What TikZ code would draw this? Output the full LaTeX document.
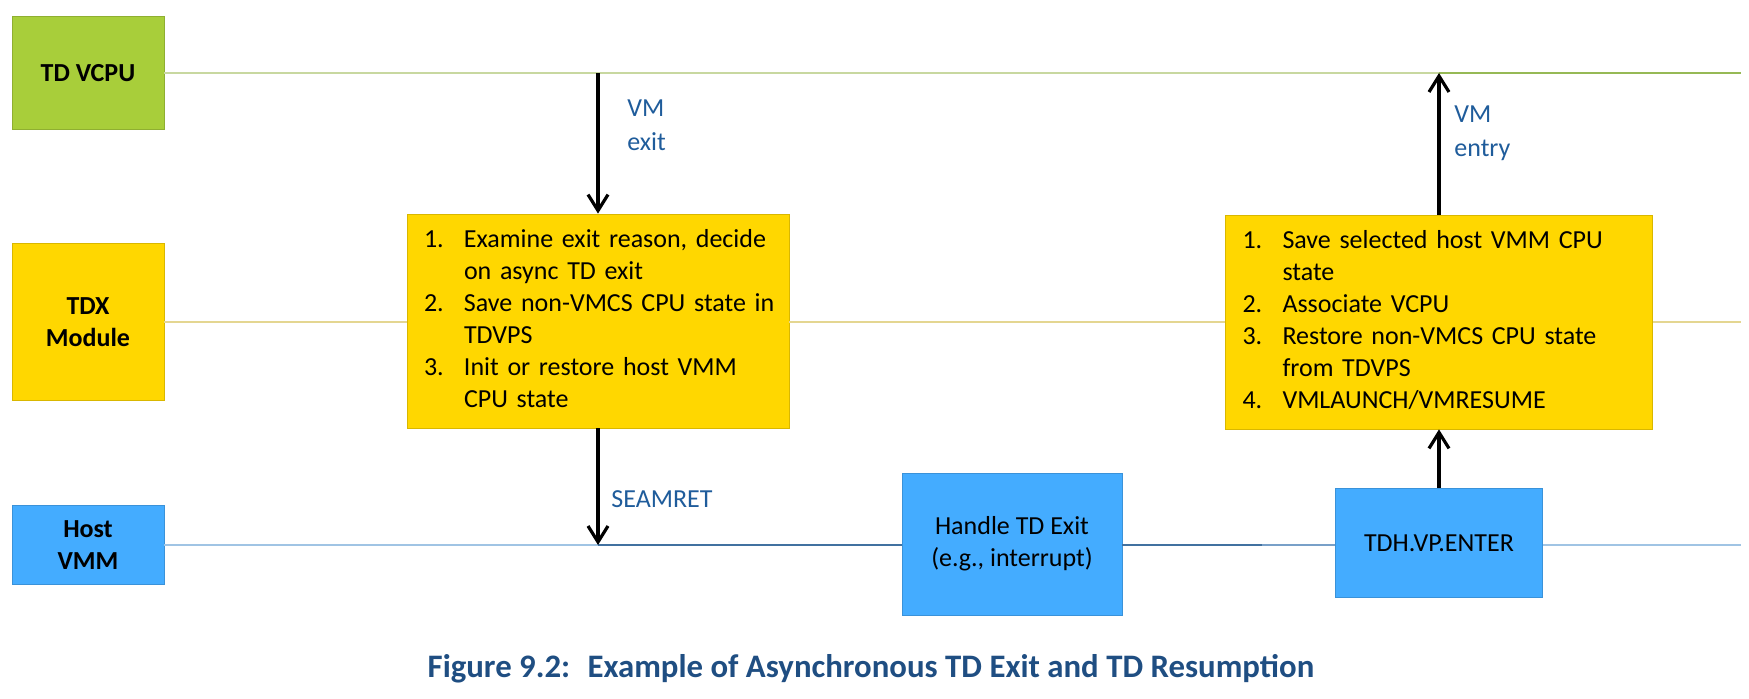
\documentclass[tikz,border=0pt]{standalone}
\usepackage{fontspec}
\setmainfont{Carlito}
\usetikzlibrary{arrows.meta}
\definecolor{vcpugreen}{RGB}{168,206,58}
\definecolor{tdxyellow}{RGB}{255,215,0}
\definecolor{hostblue}{RGB}{68,172,255}
\definecolor{notecol}{RGB}{31,92,155}
\definecolor{capcol}{RGB}{31,78,130}
\definecolor{vcpupale}{RGB}{200,216,160}
\definecolor{vcpudark}{RGB}{150,185,85}
\definecolor{tdxpale}{RGB}{228,214,145}
\definecolor{hostpale}{RGB}{160,196,228}
\definecolor{hostdark}{RGB}{65,113,160}
\definecolor{hostmid}{RGB}{120,160,200}

\begin{document}
\begin{tikzpicture}[x=0.5pt, y=-0.5pt,
        lane/.style={rectangle, draw=#1!85!black, fill=#1, font=\fontsize{13}{16}\selectfont\bfseries, align=center, minimum width=76pt, inner sep=0pt},
        stepbox/.style={rectangle, draw=tdxyellow!85!black, fill=tdxyellow, font=\fontsize{13}{16}\selectfont, align=left, minimum height=107pt, inner xsep=8.5pt, inner ysep=0pt},
        hostbox/.style={rectangle, draw=hostblue!85!black, fill=hostblue, font=\fontsize{13}{16}\selectfont, align=center, inner sep=0pt},
        arrow/.style={-{Straight Barb[length=8pt,width=10pt]}, line width=1.6pt},
        note/.style={anchor=west, inner sep=0pt, text=notecol, font=\fontsize{13}{17}\selectfont, align=left},
        life/.style={line width=1pt, draw=#1}
    ]
        \useasboundingbox (0,0) rectangle (1749,699);

        \node[lane=vcpugreen, minimum height=56.5pt] (vcpu) at (88, 73) {TD VCPU};
        \node[lane=tdxyellow, minimum height=78.5pt] (tdx) at (88, 322) {TDX\\Module};
        \node[lane=hostblue, minimum height=39.5pt] (host) at (88, 545) {Host\\VMM};

        \node[stepbox, text width=174pt] (exitbox) at (598, 321) {%
            \begin{tabular}{@{}p{20pt}@{}l@{}}
            1. & Examine exit reason, decide\\
               & on async TD exit\\
            2. & Save non-VMCS CPU state in\\
               & TDVPS\\
            3. & Init or restore host VMM\\
               & CPU state
            \end{tabular}};
        \node[stepbox, text width=196.5pt] (entrybox) at (1439, 322) {%
            \begin{tabular}{@{}p{20pt}@{}l@{}}
            1. & Save selected host VMM CPU\\
               & state\\
            2. & Associate VCPU\\
            3. & Restore non-VMCS CPU state\\
               & from TDVPS\\
            4. & VMLAUNCH/VMRESUME
            \end{tabular}};

        \node[hostbox, minimum width=110pt, minimum height=71pt] (handle) at (1012, 544) {Handle TD Exit\\(e.g., interrupt)};
        \node[hostbox, minimum width=103.5pt, minimum height=54.5pt] (enter) at (1439, 543) {TDH.VP.ENTER};

        \coordinate (vcpuend) at (1741, 73);
        \coordinate (tdxend) at (1741, 322);
        \coordinate (hostend) at (1741, 545);
        \coordinate (fade) at (1262, 545);

        \draw[life=vcpupale] (vcpu.east) -- (entrybox.north |- vcpu.east);
        \draw[life=vcpudark] (entrybox.north |- vcpu.east) -- (vcpuend);
        \draw[life=tdxpale] (tdx.east) -- (exitbox.west |- tdx.east);
        \draw[life=tdxpale] (exitbox.east |- tdx.east) -- (entrybox.west |- tdx.east);
        \draw[life=tdxpale] (entrybox.east |- tdx.east) -- (tdxend);
        \draw[life=hostpale] (host.east) -- (exitbox.south |- host.east);
        \draw[life=hostdark, line width=1.4pt] (exitbox.south |- host.east) -- (handle.west |- host.east);
        \draw[life=hostdark, line width=1.4pt] (handle.east |- host.east) -- (fade);
        \draw[life=hostmid, line width=1.4pt] (fade) -- (enter.west |- host.east);
        \draw[life=hostpale] (enter.east |- host.east) -- (hostend);

        \draw[arrow] (exitbox.north |- vcpu.east) -- (exitbox.north);
        \draw[arrow] (exitbox.south) -- (exitbox.south |- host.east);
        \draw[arrow] (entrybox.north) -- (entrybox.north |- vcpu.east);
        \draw[arrow] (enter.north) -- (entrybox.south);

        \node[note] (exitlbl) at (627, 125) {VM\\exit};
        \node[note] (entrylbl) at (1454, 133) {VM\\entry};
        \node[note] (seamlbl) at (611, 499) {SEAMRET};

        \node[anchor=base, text=capcol, font=\fontsize{16.4}{19}\selectfont\bfseries] (caption) at (871, 677) {Figure 9.2:~ Example of Asynchronous TD Exit and TD Resumption};
    \end{tikzpicture}
\end{document}
